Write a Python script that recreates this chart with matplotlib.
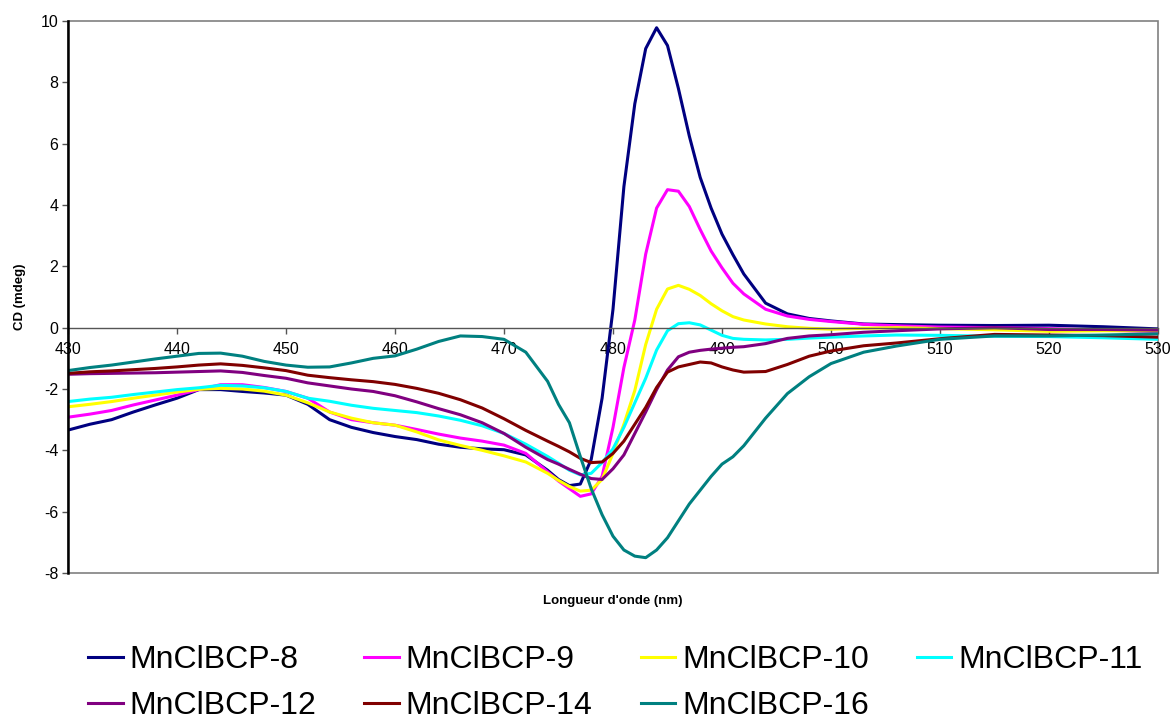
import matplotlib
matplotlib.use("Agg")
import matplotlib.pyplot as plt
from matplotlib.patches import Rectangle

plt.rcParams['font.family'] = ['Liberation Sans', 'DejaVu Sans']
plt.rcParams['axes.unicode_minus'] = False

# wavelength grid (nm)
wl = [430, 432, 434, 436, 438, 440, 442, 444, 446, 448, 450, 452, 454, 456,
      458, 460, 462, 464, 466, 468, 470, 472, 474, 475, 476, 477, 478, 479,
      480, 481, 482, 483, 484, 485, 486, 487, 488, 489, 490, 491, 492, 494,
      496, 498, 500, 503, 506, 510, 515, 520, 525, 530]

cd8 = [-3.34, -3.15, -3.0, -2.75, -2.52, -2.3, -2.02, -2.02, -2.08, -2.13,
       -2.2, -2.5, -3.0, -3.25, -3.42, -3.55, -3.65, -3.8, -3.9, -3.95,
       -3.98, -4.15, -4.65, -4.95, -5.15, -5.1, -4.3, -2.3,
       0.6, 4.6, 7.3, 9.1, 9.78, 9.2, 7.8, 6.25, 4.9, 3.9, 3.05, 2.38, 1.75, 0.8,
       0.45, 0.3, 0.22, 0.12, 0.1, 0.08, 0.07, 0.08, 0.03, -0.04]

cd9 = [-2.92, -2.82, -2.7, -2.52, -2.36, -2.2, -2.02, -1.86, -1.86, -1.95,
       -2.08, -2.3, -2.75, -3.0, -3.1, -3.18, -3.32, -3.47, -3.6, -3.7,
       -3.83, -4.1, -4.7, -5.0, -5.25, -5.5, -5.42, -4.85,
       -3.25, -1.3, 0.25, 2.4, 3.9, 4.5, 4.45, 3.95, 3.2, 2.5, 1.95, 1.45, 1.1, 0.6,
       0.38, 0.27, 0.2, 0.11, 0.06, 0.02, 0.0, -0.03, -0.08, -0.13]

cd10 = [-2.58, -2.5, -2.41, -2.3, -2.2, -2.1, -2.01, -1.98, -2.0, -2.07,
        -2.2, -2.45, -2.75, -2.95, -3.1, -3.18, -3.4, -3.66, -3.84, -4.0,
        -4.18, -4.38, -4.75, -4.98, -5.18, -5.33, -5.3, -4.95,
        -4.1, -3.15, -2.05, -0.55, 0.6, 1.26, 1.38, 1.25, 1.05, 0.78, 0.55, 0.36, 0.25, 0.12,
        0.03, -0.02, -0.05, -0.02, 0.0, -0.03, -0.07, -0.12, -0.1, -0.1]

cd11 = [-2.41, -2.33, -2.27, -2.18, -2.1, -2.02, -1.96, -1.88, -1.9, -1.96,
        -2.08, -2.3, -2.4, -2.53, -2.63, -2.7, -2.77, -2.88, -3.02, -3.2,
        -3.45, -3.8, -4.2, -4.42, -4.65, -4.8, -4.75, -4.4,
        -3.95, -3.25, -2.45, -1.65, -0.73, -0.1, 0.13, 0.16, 0.09, -0.08, -0.25, -0.35, -0.38, -0.4,
        -0.38, -0.34, -0.31, -0.27, -0.24, -0.25, -0.28, -0.29, -0.33, -0.38]

cd12 = [-1.52, -1.5, -1.49, -1.48, -1.47, -1.45, -1.43, -1.41, -1.46, -1.56,
        -1.65, -1.8, -1.9, -2.0, -2.08, -2.22, -2.42, -2.64, -2.84, -3.1,
        -3.45, -3.9, -4.3, -4.45, -4.62, -4.78, -4.92, -4.95,
        -4.6, -4.15, -3.45, -2.75, -2.02, -1.38, -0.95, -0.8, -0.74, -0.7, -0.67, -0.64, -0.62, -0.52,
        -0.35, -0.27, -0.23, -0.15, -0.1, -0.04, 0.0, -0.06, -0.06, -0.08]

cd14 = [-1.49, -1.44, -1.41, -1.37, -1.33, -1.28, -1.22, -1.18, -1.23, -1.31,
        -1.4, -1.55, -1.63, -1.7, -1.76, -1.85, -1.98, -2.14, -2.35, -2.62,
        -2.97, -3.35, -3.7, -3.87, -4.05, -4.26, -4.4, -4.38,
        -4.1, -3.7, -3.15, -2.6, -1.95, -1.45, -1.28, -1.2, -1.12, -1.15, -1.28, -1.38, -1.45, -1.43,
        -1.2, -0.93, -0.76, -0.59, -0.5, -0.36, -0.22, -0.24, -0.26, -0.31]

cd16 = [-1.4, -1.3, -1.22, -1.12, -1.02, -0.93, -0.84, -0.83, -0.93, -1.1,
        -1.22, -1.29, -1.28, -1.15, -1.0, -0.92, -0.7, -0.45, -0.27, -0.29,
        -0.38, -0.8, -1.75, -2.5, -3.1, -4.2, -5.25, -6.1,
        -6.8, -7.25, -7.45, -7.5, -7.25, -6.85, -6.3, -5.75, -5.3, -4.85, -4.45, -4.21, -3.85, -2.95,
        -2.15, -1.6, -1.17, -0.8, -0.6, -0.38, -0.27, -0.27, -0.24, -0.2]

names = ['MnClBCP-8', 'MnClBCP-9', 'MnClBCP-10', 'MnClBCP-11',
         'MnClBCP-12', 'MnClBCP-14', 'MnClBCP-16']
colors = ['#000080', '#FF00FF', '#FFFF00', '#00FFFF',
          '#800080', '#800000', '#008080']
series = [cd8, cd9, cd10, cd11, cd12, cd14, cd16]

fig = plt.figure(figsize=(11.74, 7.2), dpi=100)
ax = fig.add_axes([68 / 1174, 1 - 573 / 720, 1090 / 1174, 552 / 720])

lines = []
for y, c, n in zip(series, colors, names):
    ln, = ax.plot(wl, y, color=c, lw=2.2, label=n, solid_joinstyle='round')
    lines.append(ln)

ax.set_xlim(430, 530)
ax.set_ylim(-8, 10)
ax.set_xticks(range(430, 531, 10))
ax.set_yticks(range(-8, 11, 2))

# x axis crosses at 0, frame drawn separately
ax.spines['bottom'].set_position(('data', 0))
ax.spines['bottom'].set_color('#555555')
ax.spines['bottom'].set_linewidth(1.0)
ax.spines['top'].set_visible(False)
ax.spines['right'].set_visible(False)
ax.spines['left'].set_color('black')
ax.spines['left'].set_linewidth(1.8)
ax.spines['left'].set_zorder(5)
frame = Rectangle((0, 0), 1, 1, transform=ax.transAxes, fill=False,
                  edgecolor='#808080', lw=1.2, clip_on=False, zorder=0.5)
ax.add_patch(frame)

ax.tick_params(axis='x', direction='out', length=4, width=1, color='#555555',
               pad=6, labelsize=11.5)
ax.tick_params(axis='y', direction='out', length=4, width=1, color='#555555',
               pad=3, labelsize=11.5)

fig.text(613 / 1174, 1 - 601 / 720, "Longueur d'onde (nm)", ha='center',
         va='center', fontsize=9.5, fontweight='bold')
fig.text(20 / 1174, 1 - 297 / 720, 'CD (mdeg)', ha='center', va='center',
         rotation=90, fontsize=9.5, fontweight='bold')

# legend fills column by column: reorder so rows read 8,9,10,11 / 12,14,16
order = [0, 4, 1, 5, 2, 6, 3]
fig.legend(handles=[lines[i] for i in order], loc='upper left', ncol=4,
           frameon=False, bbox_to_anchor=(88 / 1174, 1 - 645 / 720),
           fontsize=23, handlelength=1.08, handletextpad=0.22,
           columnspacing=1.5, labelspacing=0.5, borderpad=0,
           borderaxespad=0)

fig.savefig('out.png', dpi=100)
